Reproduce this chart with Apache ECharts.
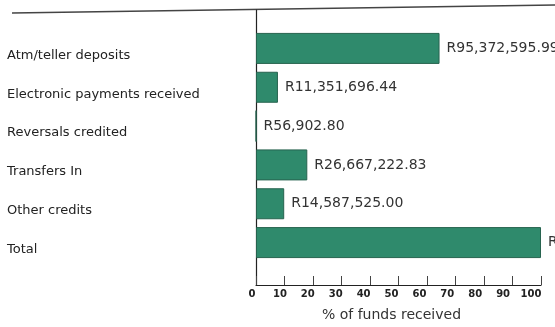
<!DOCTYPE html>
<html>
<head>
<meta charset="utf-8">
<script src="https://cdn.jsdelivr.net/npm/echarts@6/dist/echarts.min.js"></script>
<style>
html,body{margin:0;padding:0;background:#fff;}
#c{width:555px;height:327px;}
</style>
</head>
<body>
<div id="c"></div>
<script>
var categories = ["Atm/teller deposits","Electronic payments received","Reversals credited","Transfers In","Other credits","Total"];
var percentValues = [64.4, 7.7, 0.04, 18.0, 9.9, 100];
var amountLabels = ["R95,372,595.99","R11,351,696.44","R56,902.80","R26,667,222.83","R14,587,525.00","R148,035,943.06"];
var xTicks = [0,10,20,30,40,50,60,70,80,90,100];
var xAxisName = "% of funds received";

var chart = echarts.init(document.getElementById('c'), null, {renderer:'canvas'});
var FONT = 'DejaVu Sans';
chart.setOption({
  animation:false,
  backgroundColor:'#ffffff',
  grid:[
    {left:256, right:14, top:29, height:233},
    {left:256, right:14, top:10, bottom:42},
    {left:252, right:24, top:10, bottom:42}
  ],
  xAxis:[
    {gridIndex:0, type:'value', min:0, max:100, show:false},
    {gridIndex:1, type:'value', min:0, max:100, interval:10,
     axisLine:{show:true, lineStyle:{color:'#222', width:1.2}},
     axisTick:{show:true, inside:true, length:9, lineStyle:{color:'#444', width:1}},
     axisLabel:{show:false}, splitLine:{show:false}},
    {gridIndex:2, type:'value', min:0, max:100, interval:10,
     axisLine:{show:false}, axisTick:{show:false}, splitLine:{show:false},
     axisLabel:{show:true, margin:12, fontFamily:FONT, fontSize:10, fontWeight:'bold', color:'#222',
       formatter:function(v){ return xTicks.indexOf(v)>=0 ? String(v) : ''; }},
     name:xAxisName, nameLocation:'middle', nameGap:31,
     nameTextStyle:{fontFamily:FONT, fontSize:14, color:'#333'}}
  ],
  yAxis:[
    {gridIndex:0, type:'category', data:categories, inverse:true,
     axisLine:{show:false}, axisTick:{show:false}, splitLine:{show:false},
     axisLabel:{show:true, align:'left', verticalAlign:'top', lineHeight:14, margin:249,
       fontFamily:FONT, fontSize:13, color:'#222'}},
    {gridIndex:1, type:'value', min:0, max:1,
     axisLine:{show:true, onZero:false, lineStyle:{color:'#222', width:1.2}},
     axisTick:{show:false}, axisLabel:{show:false}, splitLine:{show:false}},
    {gridIndex:2, type:'value', show:false}
  ],
  series:[{
    type:'bar', xAxisIndex:0, yAxisIndex:0,
    data:percentValues, barWidth:31,
    itemStyle:{color:'#2f8a6c', borderColor:'#27634f', borderWidth:1},
    label:{show:true, position:'right', distance:7, fontFamily:FONT, fontSize:14, color:'#333',
      formatter:function(p){ return amountLabels[p.dataIndex]; }}
  }],
  graphic:[{
    type:'line', shape:{x1:12, y1:13, x2:555, y2:5},
    style:{stroke:'#444', lineWidth:1.5}
  }]
});
</script>
</body>
</html>
